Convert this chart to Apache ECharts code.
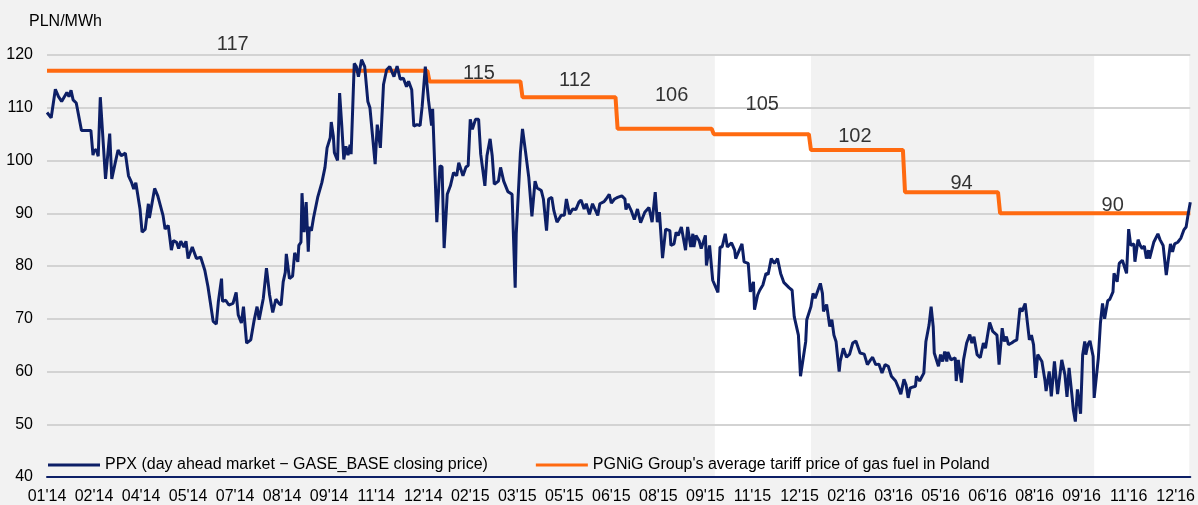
<!DOCTYPE html>
<html lang="en">
<head>
	<meta charset="UTF-8">
	<title>PPX vs PGNiG tariff</title>
	<style>
		*{
			margin: 0;
			padding: 0;
		}
		body{
			background: #f2f2f2;
		}
		.box{
			width: 1198px;
			height: 505px;
		}
	</style>
	<script src="https://cdn.jsdelivr.net/npm/echarts@6/dist/echarts.min.js"></script>
</head>
<body>
	<div class="box"></div>
	<script>
		// x = days since 01.01.2014
		var xLabels = ["01'14","02'14","04'14","05'14","07'14","08'14","09'14","11'14","12'14",
			"02'15","03'15","05'15","06'15","08'15","09'15","11'15","12'15",
			"02'16","03'16","05'16","06'16","08'16","09'16","11'16","12'16"];
		var lastDay = 1094;

		var ppxDay = [0,4,8,11,14,15,19,21,23,25,28,33,42,44,45,47,49,51,56,60,62,65,68,71,75,78,81,83,85,89,91,94,97,98,
			103,106,111,113,116,119,121,124,126,128,131,133,135,139,143,147,151,154,159,162,164,167,168,171,174,178,181,183,186,188,
			191,195,198,201,203,207,210,213,216,219,222,224,226,228,229,232,235,237,240,241,243,244,246,248,250,251,253,255,259,263,
			266,268,271,272,274,275,278,280,282,284,286,288,290,291,294,296,298,301,304,307,309,314,316,319,322,325,328,332,335,338,
			341,344,346,349,351,354,357,359,362,365,368,369,373,376,378,380,383,386,389,392,394,398,401,403,405,407,410,413,415,419,
			421,424,426,428,432,434,437,441,445,448,449,453,455,458,461,464,467,469,473,475,478,480,483,485,488,492,495,497,500,503,
			506,509,511,514,516,519,522,527,529,533,535,538,540,543,546,550,553,554,556,559,562,565,568,572,576,579,582,584,586,589,
			592,596,597,600,602,604,607,609,611,613,616,618,619,621,624,626,630,631,634,637,642,644,646,649,651,655,658,659,665,667,
			671,673,676,677,680,682,685,688,690,693,696,699,702,705,710,713,715,719,721,726,727,731,733,735,740,742,743,746,749,751,
			753,755,758,759,762,765,768,771,774,778,782,785,788,790,793,796,799,802,805,808,812,815,817,820,822,824,826,831,832,835,
			839,841,844,846,848,849,853,855,857,859,861,862,865,869,870,872,875,877,880,883,885,887,890,893,896,898,902,905,909,911,
			914,916,918,920,923,925,928,931,933,936,940,942,944,946,948,952,955,956,959,961,964,967,971,974,976,978,981,982,984,986,
			989,991,993,994,996,998,1001,1002,1006,1008,1010,1012,1015,1017,1020,1021,1024,1026,1029,1033,1035,1037,1040,1041,1044,1046,
			1048,1050,1052,1054,1055,1059,1063,1065,1068,1071,1075,1077,1079,1082,1085,1088,1090,1092,1094];
		var ppxValue = [109.1,108.1,113.5,112.1,111.2,111.5,112.9,112.1,113.3,111.5,110.9,105.7,105.7,101.0,101.8,102.1,100.8,112.0,96.5,105.1,96.5,99.3,102.0,100.9,101.4,97.1,95.8,94.6,95.8,90.8,86.4,87.0,91.8,89.1,
			94.7,93.3,89.6,87.0,87.7,83.0,84.8,84.5,83.3,84.7,83.6,84.7,81.4,83.6,81.4,81.7,79.2,76.1,69.5,69.0,73.3,77.6,73.3,73.5,72.6,72.9,75.0,70.7,69.2,72.3,
			65.4,66.0,69.5,72.3,69.8,73.9,79.6,74.5,71.2,73.7,72.9,72.6,77.0,78.8,82.3,77.6,78.1,82.5,80.8,83.9,84.5,93.8,86.4,92.1,82.7,87.4,86.7,89.1,93.0,95.8,
			98.7,102.4,104.3,107.3,104.6,101.5,100.0,112.8,106.8,100.2,102.7,101.0,103.0,101.2,118.4,117.8,115.9,119.1,117.8,111.2,110.0,99.3,106.8,102.4,114.4,117.2,117.8,115.9,117.9,115.4,
			115.6,114.0,115.0,113.4,106.5,106.8,106.6,110.3,117.8,111.5,106.6,109.8,88.3,99.0,98.8,83.4,93.6,95.2,97.7,97.1,99.6,97.1,98.8,99.0,107.8,105.9,107.8,107.8,101.2,95.2,
			100.9,104.1,100.9,95.5,96.1,98.7,96.1,94.1,93.6,75.9,86.1,101.5,106.0,101.5,96.8,89.4,96.1,94.8,94.3,92.7,86.7,92.7,93.0,90.5,88.3,89.6,89.6,92.7,89.8,90.8,
			90.7,92.1,92.5,90.8,91.8,89.8,91.8,89.6,91.8,92.2,92.7,93.6,91.9,92.7,93.0,93.3,92.7,90.7,91.8,90.5,88.8,90.8,88.2,90.2,91.1,88.3,94.0,88.3,90.2,81.5,
			87.0,86.7,83.9,84.2,86.4,85.8,87.4,85.2,83.0,87.4,83.6,86.1,83.6,85.8,84.8,83.3,85.8,80.1,83.9,77.3,75.0,83.6,83.6,86.1,83.6,84.4,83.0,81.4,84.2,80.8,
			80.5,75.1,77.0,71.7,74.5,75.4,76.4,78.6,78.4,81.4,80.5,81.4,78.6,76.9,75.9,75.4,70.4,66.9,59.1,65.7,69.8,72.3,74.8,73.9,76.7,74.8,71.4,72.7,68.5,69.8,
			66.9,65.7,60.0,61.9,64.4,62.7,63.3,65.4,65.8,63.5,63.3,61.3,62.2,62.7,61.3,61.4,59.7,61.3,61.0,59.1,58.2,56.8,55.7,58.5,57.5,55.0,56.9,57.2,59.1,58.2,
			59.7,65.7,68.8,72.3,68.5,63.5,61.0,63.2,61.9,63.8,61.9,63.7,62.2,62.6,58.2,62.2,57.9,62.2,65.4,67.0,65.4,66.6,63.2,62.6,65.4,64.4,69.3,67.6,66.9,61.3,
			68.2,65.7,66.6,65.1,65.4,65.7,66.0,72.0,71.4,72.9,66.0,66.9,65.1,58.8,63.2,61.9,58.2,56.3,60.0,55.3,61.9,55.7,62.2,59.4,55.2,60.7,55.0,52.8,50.5,56.6,
			52.0,63.2,65.7,63.2,65.1,65.8,62.9,55.0,62.6,69.2,72.9,70.0,73.4,73.7,75.1,78.6,77.0,80.5,81.1,78.6,87.0,83.9,84.2,80.8,85.0,83.9,
			83.3,83.8,81.4,83.0,81.4,84.5,86.1,85.0,83.9,78.3,84.2,82.7,84.2,84.5,85.3,86.9,87.4,89.9,92.1];

		// tariff periods (start day) and prices
		var tariffStart = [0, 365, 454, 545, 637, 730, 820, 911];
		var tariffValue = [117, 115, 112, 106, 105, 102, 94, 90];

		// white shaded periods
		var bands = [[639, 731], [1002, 1093]];

		var navy = '#0d1f66';
		var orange = '#ff6a10';
		var font = 'Liberation Sans, Arial, sans-serif';
		var labelOffsets = [[-5,-26],[4,-8],[6,-17],[7,-33],[1,-30],[-2,-13],[10,-9],[18,-8]];

		var ppxData = ppxDay.map((d, i) => [d, ppxValue[i]]);
		var tariffData = [];
		var tariffLabels = [];
		tariffStart.forEach((s, i) => {
			var end = i < tariffStart.length - 1 ? tariffStart[i + 1] - 1 : lastDay;
			var from = i > 0 ? s + 1 : s;
			tariffData.push([from, tariffValue[i]]);
			tariffData.push([end, tariffValue[i]]);
			tariffLabels.push({
				value: [(s + (i < tariffStart.length - 1 ? tariffStart[i + 1] : lastDay)) / 2, tariffValue[i]],
				label: {offset: labelOffsets[i]}
			});
		});

		var ppxName = 'PPX (day ahead market \u2212 GASE_BASE closing price)';
		var tariffName = "PGNiG Group's average tariff price of gas fuel in Poland";

		var chart = echarts.init(document.querySelector('.box'));
		var option = {
			backgroundColor: '#f2f2f2',
			animation: false,
			textStyle: {fontFamily: font},
			title: {
				text: 'PLN/MWh',
				left: 24,
				top: 9,
				textStyle: {fontSize: 16, fontWeight: 'normal', color: '#000', fontFamily: font}
			},
			grid: {left: 47, right: 3, top: 55, bottom: 25},
			legend: {
				data: [ppxName, tariffName],
				left: 43,
				top: 452,
				icon: 'rect',
				itemWidth: 52,
				itemHeight: 3,
				itemGap: 48,
				textStyle: {fontSize: 16, color: '#000', fontFamily: font}
			},
			xAxis: {
				type: 'value',
				min: 0,
				max: lastDay,
				interval: 45,
				z: 2,
				axisLine: {lineStyle: {color: navy, width: 2}},
				axisTick: {show: false},
				splitLine: {show: false},
				axisLabel: {
					fontSize: 16,
					color: '#000',
					margin: 12,
					showMaxLabel: false,
					formatter: function (v) {
						var i = v / 45;
						return Number.isInteger(i) && xLabels[i] ? xLabels[i] : '';
					}
				}
			},
			yAxis: {
				type: 'value',
				min: 40,
				max: 120,
				interval: 10,
				z: 2,
				axisLine: {show: false},
				axisTick: {show: false},
				splitLine: {lineStyle: {color: '#d3d3d3', width: 2}},
				axisLabel: {fontSize: 16, color: '#000', margin: 14}
			},
			series: [
				{
					name: tariffName,
					type: 'line',
					z: 3,
					data: tariffData,
					symbol: 'none',
					lineStyle: {color: orange, width: 4},
					itemStyle: {color: orange},
					markArea: {
						silent: true,
						itemStyle: {color: '#ffffff'},
						data: bands.map(b => [{xAxis: b[0]}, {xAxis: b[1]}])
					}
				},
				{
					name: ppxName,
					type: 'line',
					z: 4,
					data: ppxData,
					symbol: 'none',
					lineStyle: {color: navy, width: 3},
					itemStyle: {color: navy}
				},
				{
					name: 'labels',
					type: 'scatter',
					z: 5,
					symbolSize: 0,
					data: tariffLabels,
					label: {
						show: true,
						position: 'inside',
						fontSize: 20,
						color: '#000',
						fontFamily: font,
						formatter: p => p.value[1]
					}
				}
			]
		};
		chart.setOption(option);
	</script>
</body>
</html>
